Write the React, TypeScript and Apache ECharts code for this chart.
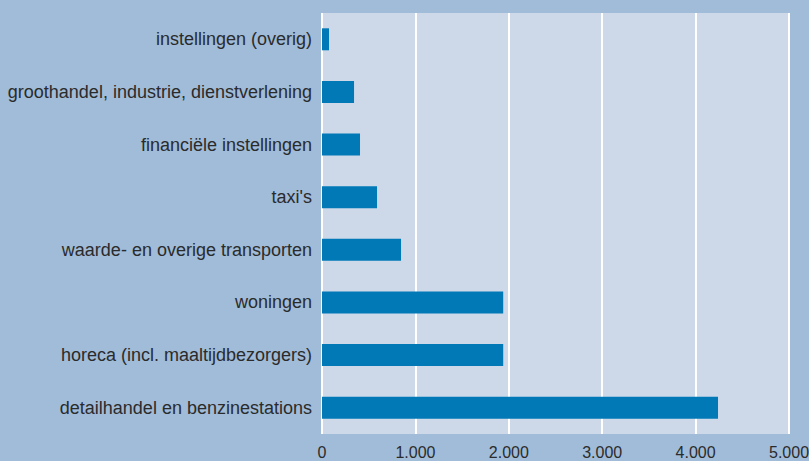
import React, { useEffect, useRef } from "react";
import * as echarts from "echarts";

const categories = [
  "detailhandel en benzinestations",
  "horeca (incl. maaltijdbezorgers)",
  "woningen",
  "waarde- en overige transporten",
  "taxi's",
  "financiële instellingen",
  "groothandel, industrie, dienstverlening",
  "instellingen (overig)",
];
const values = [4240, 1940, 1940, 846, 589, 407, 343, 75];
const xTicks = [0, 1000, 2000, 3000, 4000, 5000];

const FONT = "'Liberation Sans Narrow', 'Liberation Sans', Arial, sans-serif";

export default function App() {
  const ref = useRef<HTMLDivElement>(null);
  useEffect(() => {
    if (!ref.current) return;
    const chart = echarts.init(ref.current, undefined, { renderer: "svg" });
    chart.setOption({
      animation: false,
      backgroundColor: "#a0bcd9",
      grid: {
        left: 322,
        right: 20,
        top: 13,
        bottom: 27,
        show: true,
        backgroundColor: "#cdd9e9",
        borderWidth: 0,
        containLabel: false,
        outerBoundsMode: "none",
      },
      xAxis: {
        type: "value",
        min: xTicks[0],
        max: xTicks[xTicks.length - 1],
        interval: 1000,
        axisLine: { show: false },
        axisTick: { show: false },
        splitLine: { show: true, lineStyle: { color: "#ffffff", width: 2 } },
        axisLabel: {
          color: "#2b2b2b",
          fontFamily: FONT,
          fontSize: 16,
          margin: 10,
          formatter: (v: number) =>
            v === 0 ? "0" : v.toLocaleString("nl-NL").replace(",", "."),
        },
      },
      yAxis: {
        type: "category",
        data: categories,
        axisLine: { show: false },
        axisTick: { show: false },
        splitLine: { show: false },
        axisLabel: {
          color: "#2b2b2b",
          fontFamily: FONT,
          fontSize: 18,
          margin: 10,
        },
      },
      series: [
        {
          type: "bar",
          data: values,
          barWidth: 22,
          itemStyle: { color: "#0079b6" },
        },
      ],
    });
    return () => chart.dispose();
  }, []);
  return (
    <div
      ref={ref}
      style={{ width: 809, height: 461, position: "absolute", left: 0, top: 0 }}
    />
  );
}
